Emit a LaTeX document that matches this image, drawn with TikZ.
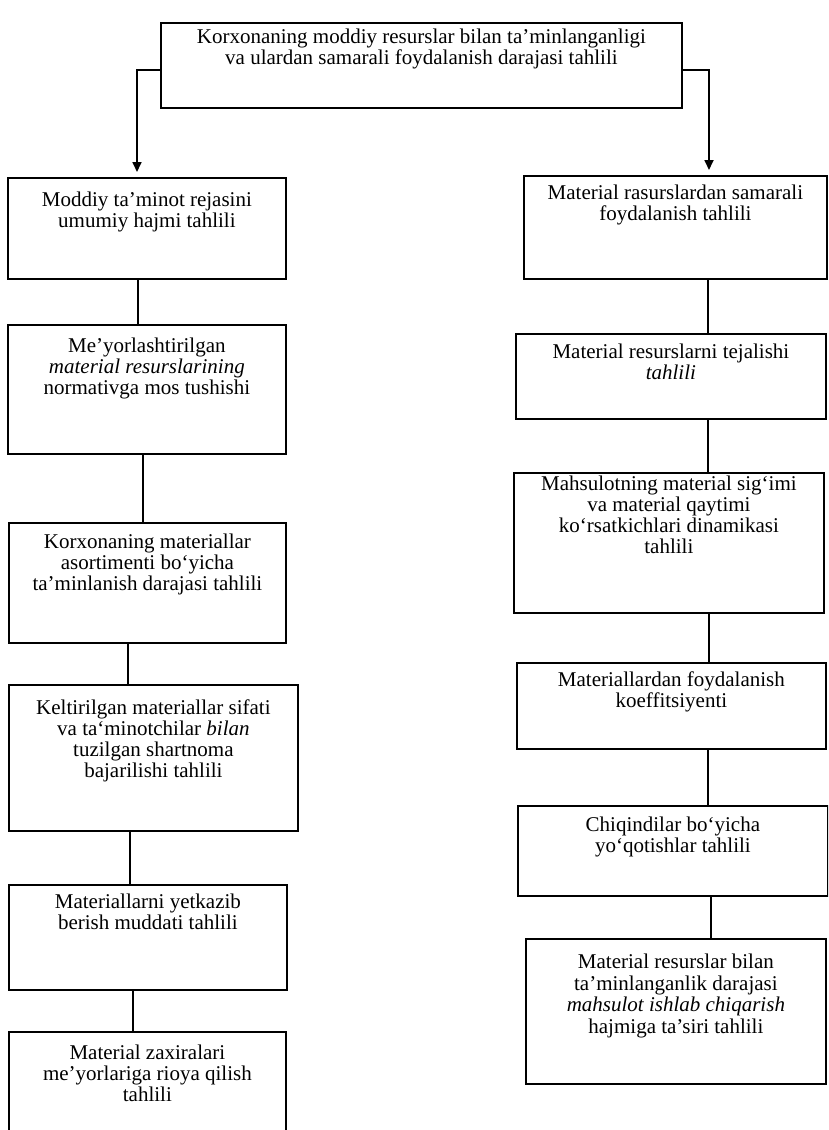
\documentclass[tikz,border=0pt]{standalone}
\usepackage{fontspec}
\setmainfont{Liberation Serif}
\usetikzlibrary{arrows.meta}
\begin{document}
\begin{tikzpicture}[x=1pt,y=-1pt,
  box/.style={draw, line width=1.8pt, inner sep=0pt, anchor=north west},
  lbl/.style={anchor=north, align=center, inner sep=0pt, font=\fontsize{21}{21}\selectfont},
  conn/.style={line width=1.7pt},
  arr/.style={line width=1.7pt, -{Triangle[width=9pt,length=10pt]}, shorten >=5pt}]
\clip (0,0) rectangle (828,1130);
\fill[white] (0,0) rectangle (828,1130);

% top box
\node[box, minimum width=521pt, minimum height=85pt] (T) at (160,22) {};
\node[lbl] (Tt) at ([yshift=-7pt]T.north) {Korxonaning moddiy resurslar bilan ta’minlanganligi\\va ulardan samarali foydalanish darajasi tahlili};

% left column
\node[box, minimum width=278pt, minimum height=101pt] (L1) at (7,177) {};
\node[lbl] (L1t) at ([yshift=-15pt]L1.north) {Moddiy ta’minot rejasini\\umumiy hajmi tahlili};
\node[box, minimum width=278pt, minimum height=129pt] (L2) at (7,324) {};
\node[lbl] (L2t) at ([yshift=-14pt]L2.north) {Me’yorlashtirilgan\\\textit{material resurslarining}\\normativga mos tushishi};
\node[box, minimum width=277pt, minimum height=120pt] (L3) at (8,522) {};
\node[lbl] (L3t) at ([yshift=-12pt]L3.north) {Korxonaning materiallar\\asortimenti bo‘yicha\\ta’minlanish darajasi tahlili};
\node[box, minimum width=289pt, minimum height=146pt] (L4) at (8,684) {};
\node[lbl] (L4t) at ([yshift=-16pt]L4.north) {Keltirilgan materiallar sifati\\va ta‘minotchilar \textit{bilan}\\tuzilgan shartnoma\\bajarilishi tahlili};
\node[box, minimum width=278pt, minimum height=105pt] (L5) at (8,884) {};
\node[lbl] (L5t) at ([yshift=-10pt]L5.north) {Materiallarni yetkazib\\berish muddati tahlili};
\node[box, minimum width=277pt, minimum height=110pt] (L6) at (8,1031) {};
\node[lbl] (L6t) at ([yshift=-14pt]L6.north) {Material zaxiralari\\me’yorlariga rioya qilish\\tahlili};

% right column
\node[box, minimum width=303pt, minimum height=103pt] (R1) at (523,175) {};
\node[lbl] (R1t) at ([yshift=-10pt]R1.north) {Material rasurslardan samarali\\foydalanish tahlili};
\node[box, minimum width=310pt, minimum height=85pt] (R2) at (515,333) {};
\node[lbl] (R2t) at ([yshift=-11pt]R2.north) {Material resurslarni tejalishi\\\textit{tahlili}};
\node[box, minimum width=310pt, minimum height=140pt] (R3) at (513,472) {};
\node[lbl] (R3t) at ([yshift=-4pt]R3.north) {Mahsulotning material sig‘imi\\va material qaytimi\\ko‘rsatkichlari dinamikasi\\tahlili};
\node[box, minimum width=309pt, minimum height=86pt] (R4) at (516,662) {};
\node[lbl] (R4t) at ([yshift=-10pt]R4.north) {Materiallardan foydalanish\\koeffitsiyenti};
\node[box, minimum width=310pt, minimum height=90pt] (R5) at (517,805) {};
\node[lbl] (R5t) at ([yshift=-12pt]R5.north) {Chiqindilar bo‘yicha\\yo‘qotishlar tahlili};
\node[box, minimum width=300pt, minimum height=145pt] (R6) at (525,938) {};
\node[lbl, font=\fontsize{21}{21.5}\selectfont] (R6t) at ([yshift=-16pt]R6.north) {Material resurslar bilan\\ta’minlanganlik darajasi\\\textit{mahsulot ishlab chiqarish}\\hajmiga ta’siri tahlili};

% elbows from top box
\draw[arr] (T.west |- 0,70) -- (137,70) -- (L1.north -| 137,0);
\draw[arr] (T.east |- 0,70) -- (709,70) -- (R1.north -| 709,0);

% left connectors
\draw[conn] (L1.south -| 138,0) -- (L2.north -| 138,0);
\draw[conn] (L2.south -| 143,0) -- (L3.north -| 143,0);
\draw[conn] (L3.south -| 128,0) -- (L4.north -| 128,0);
\draw[conn] (L4.south -| 130,0) -- (L5.north -| 130,0);
\draw[conn] (L5.south -| 133,0) -- (L6.north -| 133,0);

% right connectors
\draw[conn] (R1.south -| 708,0) -- (R2.north -| 708,0);
\draw[conn] (R2.south -| 708,0) -- (R3.north -| 708,0);
\draw[conn] (R3.south -| 709,0) -- (R4.north -| 709,0);
\draw[conn] (R4.south -| 708,0) -- (R5.north -| 708,0);
\draw[conn] (R5.south -| 711,0) -- (R6.north -| 711,0);
\end{tikzpicture}
\end{document}
